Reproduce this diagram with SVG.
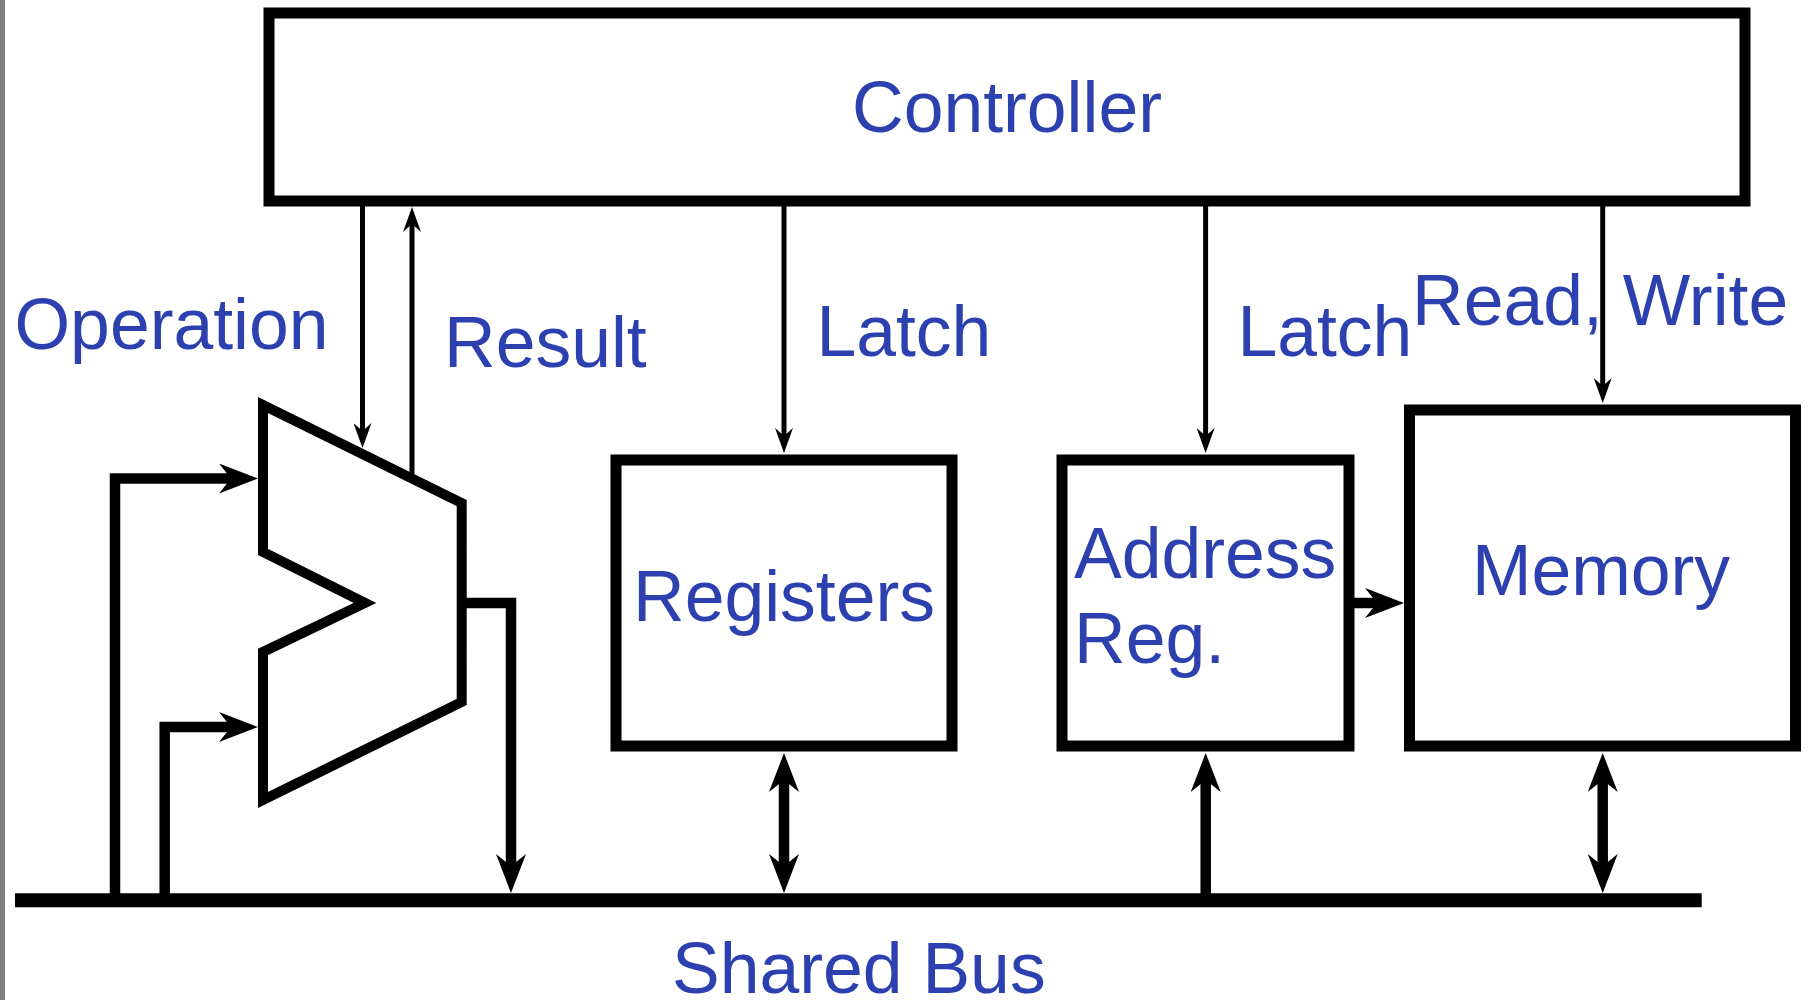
<svg xmlns="http://www.w3.org/2000/svg" width="1811" height="1000" viewBox="0 0 1811 1000">
<style>
.box{fill:#fff;stroke:#000;stroke-width:11}
.alu{fill:#fff;stroke:#000;stroke-width:10;stroke-linejoin:miter}
.lbl{font-family:"Liberation Sans",Arial,sans-serif;font-size:71.5px;fill:#2c40b0}
.thin{fill:none;stroke:#000;stroke-width:5}
.thick{fill:none;stroke:#000;stroke-width:10.5;stroke-linejoin:miter}
.bus{fill:none;stroke:#000;stroke-width:14}
</style>
<defs>
<marker id="ahThin" viewBox="0 -9 25 18" refX="8" refY="0" markerWidth="25" markerHeight="18" markerUnits="userSpaceOnUse" orient="auto-start-reverse">
<path d="M0,-9 L25,0 L0,9 L8,0 Z" fill="#000"/>
</marker>
<marker id="ahThick" viewBox="0 -15 39 30" refX="12" refY="0" markerWidth="39" markerHeight="30" markerUnits="userSpaceOnUse" orient="auto-start-reverse">
<path d="M0,-15 L39,0 L0,15 L12,0 Z" fill="#000"/>
</marker>
</defs>
<rect x="0" y="0" width="1811" height="1000" fill="#fff"/>
<rect x="0" y="0" width="5" height="1000" fill="#808080"/>

<g id="controller">
<rect class="box" x="269" y="13" width="1476" height="188"/>
<text class="lbl" x="1007" y="132" text-anchor="middle">Controller</text>
</g>

<g id="alu">
<polygon class="alu" points="263,405 461.7,503 461.7,702 263,800 263,652 365,603 263,552"/>
</g>

<g id="registers">
<rect class="box" x="616" y="460" width="336" height="286"/>
<text class="lbl" x="784" y="621" text-anchor="middle">Registers</text>
</g>

<g id="address-reg">
<rect class="box" x="1062" y="460" width="287" height="286"/>
<text class="lbl" x="1074" y="578">Address</text>
<text class="lbl" x="1074" y="663">Reg.</text>
</g>

<g id="memory">
<rect class="box" x="1409.5" y="410" width="386" height="336"/>
<text class="lbl" x="1601" y="595" text-anchor="middle">Memory</text>
</g>

<g id="shared-bus">
<path class="bus" d="M15,900.3 H1701.7"/>
<text class="lbl" x="672" y="993">Shared Bus</text>
</g>

<g id="connectors">
<path class="thin" d="M362.5,206 V431" marker-end="url(#ahThin)"/>
<path class="thin" d="M412,474 V224" marker-end="url(#ahThin)"/>
<path class="thin" d="M784,206 V436" marker-end="url(#ahThin)"/>
<path class="thin" d="M1205.6,206 V436" marker-end="url(#ahThin)"/>
<path class="thin" d="M1602.7,206 V386" marker-end="url(#ahThin)"/>
<path class="thick" d="M115,900 V478.5 H231" marker-end="url(#ahThick)"/>
<path class="thick" d="M164.7,900 V727 H231" marker-end="url(#ahThick)"/>
<path class="thick" d="M462,603 H511 V866" marker-end="url(#ahThick)"/>
<path class="thick" d="M784,780 V866" marker-start="url(#ahThick)" marker-end="url(#ahThick)"/>
<path class="thick" d="M1205.7,900 V780" marker-end="url(#ahThick)"/>
<path class="thick" d="M1602.7,780 V866" marker-start="url(#ahThick)" marker-end="url(#ahThick)"/>
<path class="thick" d="M1349,603 H1377" marker-end="url(#ahThick)"/>
</g>

<g id="labels">
<text class="lbl" x="14.5" y="349">Operation</text>
<text class="lbl" x="444" y="367">Result</text>
<text class="lbl" x="816.4" y="355.7">Latch</text>
<text class="lbl" x="1237.4" y="355.7">Latch</text>
<text class="lbl" x="1412" y="325">Read, Write</text>
</g>
</svg>
